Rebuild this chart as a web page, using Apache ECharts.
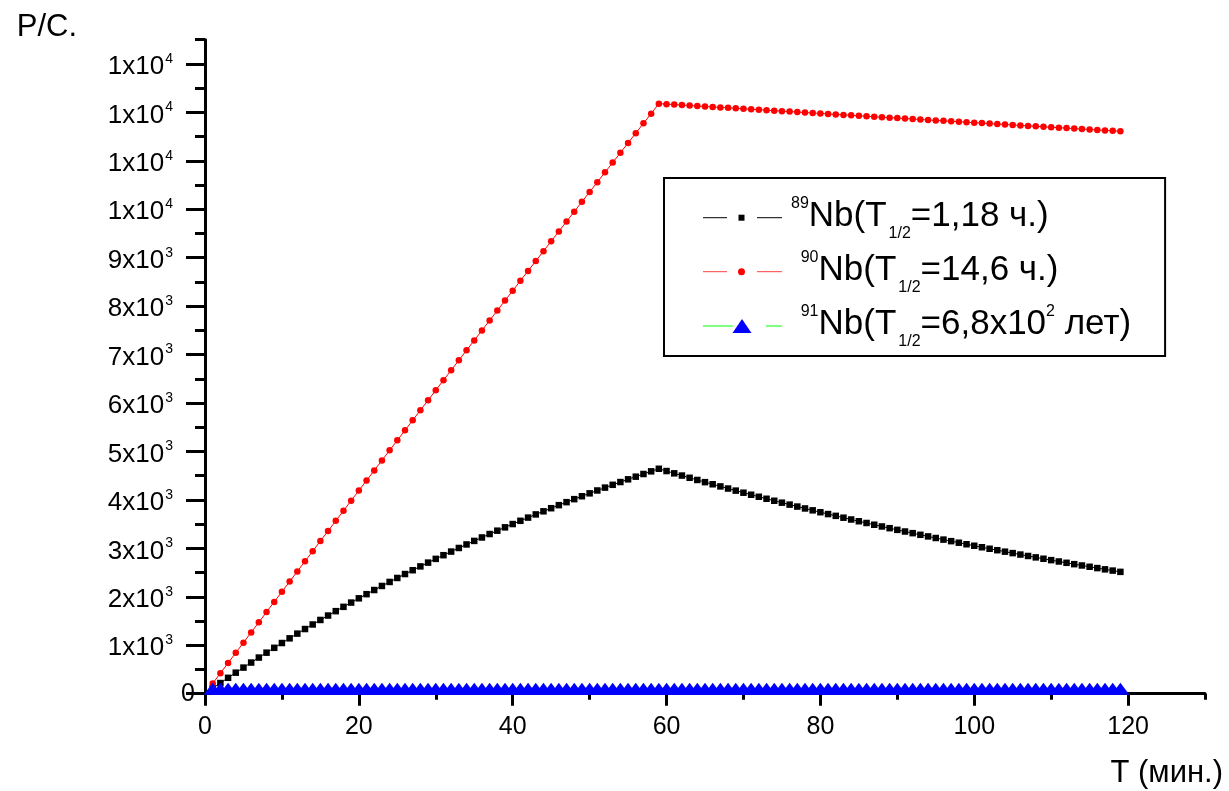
<!DOCTYPE html>
<html>
<head>
<meta charset="utf-8">
<script src="https://cdn.jsdelivr.net/npm/echarts@6/dist/echarts.min.js"></script>
<style>
html,body{margin:0;padding:0;background:#fff;}
#chart{width:1229px;height:791px;}
</style>
</head>
<body>
<div id="chart"></div>
<script>
// ---- data ----
const minutes = [1,2,3,4,5,6,7,8,9,10,11,12,13,14,15,16,17,18,19,20,21,22,23,24,25,26,27,28,29,30,31,32,33,34,35,36,37,38,39,40,41,42,43,44,45,46,47,48,49,50,51,52,53,54,55,56,57,58,59,60,61,62,63,64,65,66,67,68,69,70,71,72,73,74,75,76,77,78,79,80,81,82,83,84,85,86,87,88,89,90,91,92,93,94,95,96,97,98,99,100,101,102,103,104,105,106,107,108,109,110,111,112,113,114,115,116,117,118,119];

const nb89 = [111,220,328,434,539,643,746,847,947,1046,1143,1240,1335,1429,1522,1613,1704,1793,1881,1969,2055,2140,2224,2307,2389,2470,2549,2628,2706,2783,2859,2934,3008,3081,3154,3225,3296,3365,3434,3502,3569,3635,3701,3765,3829,3892,3954,4016,4076,4136,4195,4254,4312,4369,4425,4480,4535,4590,4643,
4596,4549,4503,4457,4412,4367,4323,4279,4235,4192,4149,4107,4065,4024,3983,3943,3903,3863,3824,3785,3746,3708,3671,3633,3596,3560,3524,3488,3452,3417,3382,3348,3314,3280,3247,3214,3181,3149,3117,3085,3054,3023,2992,2962,2932,2902,2872,2843,2814,2786,2757,2729,2702,2674,2647,2620,2593,2567,2541,2515];

const nb90 = [211,422,633,844,1054,1265,1475,1685,1895,2105,2314,2524,2733,2942,3151,3359,3568,3776,3985,4193,4400,4608,4816,5023,5230,5437,5644,5851,6057,6264,6470,6676,6882,7088,7293,7498,7704,7909,8114,8318,8523,8727,8931,9135,9339,9543,9746,9950,10153,10356,10559,10762,10964,11166,11369,11571,11773,11974,12180,
12170,12161,12151,12141,12131,12122,12112,12102,12093,12083,12073,12064,12054,12044,12035,12025,12016,12006,11996,11987,11977,11968,11958,11948,11939,11929,11920,11910,11901,11891,11882,11872,11863,11853,11844,11834,11825,11816,11806,11797,11787,11778,11768,11759,11750,11740,11731,11721,11712,11703,11693,11684,11675,11665,11656,11647,11637,11628,11619,11610];

const nb91 = [0,0,0,0,0,0,0,0,0,0,0,0,0,0,0,0,0,0,0,0,0,0,0,0,0,0,0,0,0,0,0,0,0,0,0,0,0,0,0,0,0,0,0,0,0,0,0,0,0,0,0,0,0,0,0,0,0,0,0,0,0,0,0,0,0,0,0,0,0,0,0,0,0,0,0,0,0,0,0,0,0,0,0,0,0,0,0,0,0,0,0,0,0,0,0,0,0,0,0,0,0,0,0,0,0,0,0,0,0,0,0,0,0,0,0,0,0,0,0];

const xTicks = [0,20,40,60,80,100,120];
const yTicks = [0,1000,2000,3000,4000,5000,6000,7000,8000,9000,10000,11000,12000,13000];

const seriesNames = ['89Nb','90Nb','91Nb'];
const legendLabels = {
  '89Nb': '{sup|89}{n|Nb(T}{sub|1/2}{n|=1,18 ч.)}',
  '90Nb': '{n| }{sup|90}{n|Nb(T}{sub|1/2}{n|=14,6 ч.)}',
  '91Nb': '{n| }{sup|91}{n|Nb(T}{sub|1/2}{n|=6,8x10}{sup|2}{n| лет)}'
};

const FONT = "'Liberation Sans', Arial, sans-serif";

function pairs(vals) { return minutes.map((t, i) => [t, vals[i]]); }

function yLabel(v) {
  if (v === 0) return '0';
  if (v < 10000) return '{b|' + (v / 1000) + 'x10}{s|3}';
  return '{b|1x10}{s|4}';
}

const chart = echarts.init(document.getElementById('chart'), null, {renderer: 'canvas'});

const legendRows = [217.7, 271.7, 326];

chart.setOption({
  animation: false,
  backgroundColor: '#ffffff',
  textStyle: {fontFamily: FONT},
  grid: {left: 205, right: 24, top: 39.7, bottom: 97.3, containLabel: false},
  xAxis: [{
    type: 'value', min: 0, max: 130, interval: 20,
    position: 'bottom',
    name: 'T (мин.)', nameLocation: 'end', nameGap: 18,
    nameTextStyle: {fontFamily: FONT, fontSize: 31, color: '#000', align: 'right', verticalAlign: 'top', padding: [64, 0, 0, 0]},
    axisLine: {show: true, onZero: false, lineStyle: {color: '#000', width: 3}},
    axisTick: {show: true, length: 12, lineStyle: {color: '#000', width: 3}, customValues: xTicks},
    axisLabel: {show: true, customValues: xTicks, fontFamily: FONT, fontSize: 25, color: '#000', margin: 21},
    splitLine: {show: false}
  }, {
    type: 'value', min: 0, max: 130, interval: 10,
    position: 'bottom',
    axisLine: {show: false},
    axisTick: {show: true, length: 6, lineStyle: {color: '#000', width: 3}},
    axisLabel: {show: false},
    splitLine: {show: false}
  }],
  yAxis: [{
    type: 'value', min: 0, max: 13500, interval: 1000,
    position: 'left',
    name: 'P/C.', nameLocation: 'end', nameGap: -3,
    nameTextStyle: {fontFamily: FONT, fontSize: 31, color: '#000', align: 'right', verticalAlign: 'bottom', padding: [0, 128, 0, 0]},
    axisLine: {show: true, onZero: false, lineStyle: {color: '#000', width: 3}},
    axisTick: {show: true, length: 19, lineStyle: {color: '#000', width: 3}, customValues: yTicks},
    axisLabel: {
      show: true, customValues: yTicks, margin: 10,
      fontFamily: FONT, fontSize: 25, color: '#000',
      formatter: yLabel,
      rich: {
        b: {fontFamily: FONT, fontSize: 26, color: '#000', lineHeight: 28, verticalAlign: 'top', padding: [4, 0, 0, 0]},
        s: {fontFamily: FONT, fontSize: 14, color: '#000', lineHeight: 28, verticalAlign: 'top', padding: [2, 22, 0, 1]}
      }
    },
    splitLine: {show: false}
  }, {
    type: 'value', min: 0, max: 13500, interval: 500,
    position: 'left',
    axisLine: {show: false},
    axisTick: {show: true, length: 10, lineStyle: {color: '#000', width: 3}},
    axisLabel: {show: false},
    splitLine: {show: false}
  }],
  legend: {
    show: true,
    orient: 'vertical',
    align: 'left',
    left: 664, top: 178,
    padding: [18, 34, 6, 38],
    itemWidth: 84, itemHeight: 14, itemGap: 8,
    borderColor: '#000', borderWidth: 2,
    icon: 'rect',
    itemStyle: {opacity: 0},
    lineStyle: {opacity: 0},
    data: seriesNames,
    formatter: function (name) { return legendLabels[name]; },
    textStyle: {
      fontFamily: FONT, color: '#000',
      rich: {
        n: {fontFamily: FONT, fontSize: 35, color: '#000', lineHeight: 40, verticalAlign: 'top', padding: [3, 0, 0, 0]},
        sup: {fontFamily: FONT, fontSize: 16, color: '#000', lineHeight: 40, verticalAlign: 'top', padding: [0, 0, 0, 0]},
        sub: {fontFamily: FONT, fontSize: 16, color: '#000', lineHeight: 40, verticalAlign: 'top', padding: [30, 0, 0, 2]}
      }
    }
  },
  graphic: [
    // legend sample marks (line - symbol - line)
    {type: 'line', silent: true, shape: {x1: 703, y1: legendRows[0], x2: 727, y2: legendRows[0]}, style: {stroke: '#000', lineWidth: 1}},
    {type: 'line', silent: true, shape: {x1: 757, y1: legendRows[0], x2: 782, y2: legendRows[0]}, style: {stroke: '#000', lineWidth: 1}},
    {type: 'rect', silent: true, shape: {x: 738.5, y: legendRows[0] - 3, width: 6, height: 6}, style: {fill: '#000'}},
    {type: 'line', silent: true, shape: {x1: 703, y1: legendRows[1], x2: 727, y2: legendRows[1]}, style: {stroke: '#ff4040', lineWidth: 1}},
    {type: 'line', silent: true, shape: {x1: 757, y1: legendRows[1], x2: 782, y2: legendRows[1]}, style: {stroke: '#ff4040', lineWidth: 1}},
    {type: 'circle', silent: true, shape: {cx: 741.5, cy: legendRows[1], r: 3.5}, style: {fill: '#ff0000'}},
    {type: 'line', silent: true, shape: {x1: 703, y1: legendRows[2], x2: 733, y2: legendRows[2]}, style: {stroke: '#00ff00', lineWidth: 1}},
    {type: 'line', silent: true, shape: {x1: 766, y1: legendRows[2], x2: 782, y2: legendRows[2]}, style: {stroke: '#00ff00', lineWidth: 1}},
    {type: 'polygon', silent: true, shape: {points: [[742, legendRows[2] - 7], [751.5, legendRows[2] + 7], [732.5, legendRows[2] + 7]]}, style: {fill: '#0000ff'}}
  ],
  series: [{
    name: '89Nb', type: 'line', xAxisIndex: 0, yAxisIndex: 0,
    data: pairs(nb89),
    showAllSymbol: true,
    symbol: 'rect', symbolSize: 6.5,
    itemStyle: {color: '#000'},
    lineStyle: {color: '#000', width: 1},
    emphasis: {disabled: true}
  }, {
    name: '90Nb', type: 'line', xAxisIndex: 0, yAxisIndex: 0,
    data: pairs(nb90),
    showAllSymbol: true,
    symbol: 'circle', symbolSize: 6.5,
    itemStyle: {color: '#ff0000'},
    lineStyle: {color: '#ff0000', width: 1},
    emphasis: {disabled: true}
  }, {
    name: '91Nb', type: 'line', xAxisIndex: 0, yAxisIndex: 0,
    data: pairs(nb91),
    showAllSymbol: true,
    symbol: 'triangle', symbolSize: [18, 12], symbolOffset: [0, -5],
    itemStyle: {color: '#0000ff'},
    lineStyle: {color: '#00ff00', width: 1},
    emphasis: {disabled: true}
  }]
});
</script>
</body>
</html>
